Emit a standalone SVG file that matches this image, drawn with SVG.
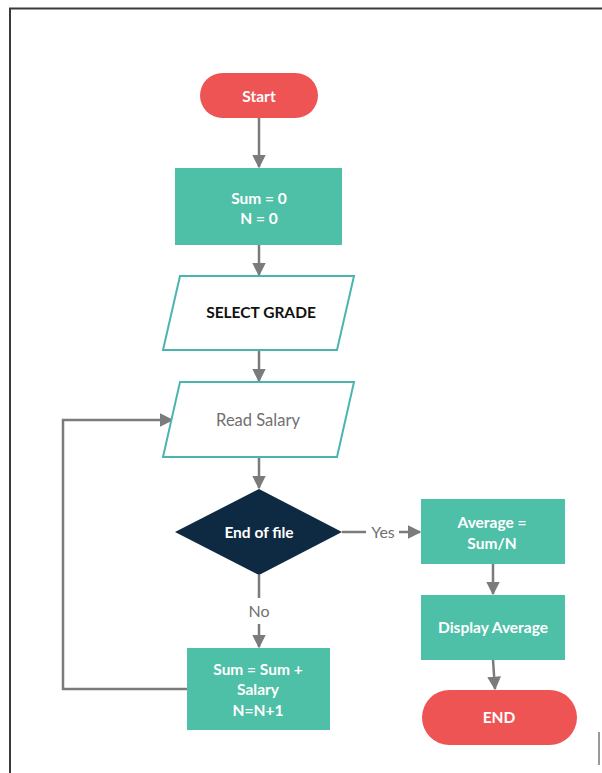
<svg xmlns="http://www.w3.org/2000/svg" width="602" height="773" viewBox="0 0 602 773">
  <style>
    .frame { stroke: #3a3a3a; stroke-width: 2; fill: none; }
    .term { fill: #ef5454; }
    .proc { fill: #4ec0a8; }
    .io { fill: #ffffff; stroke: #4ab5ae; stroke-width: 2; }
    .dec { fill: #0e2a42; }
    .edge { stroke: #7b7b7b; stroke-width: 2.5; fill: none; }
    .lbl { font-family: Lato, "Open Sans", "Liberation Sans", sans-serif; font-size: 15.5px; text-anchor: middle; }
    .w { fill: #ffffff; font-weight: bold; }
    .dark { fill: #111111; font-weight: bold; }
    .grey { fill: #707070; font-size: 16.5px; }
    .elbl { fill: #707070; font-size: 16px; }
  </style>
  <defs>
    <marker id="arrow" viewBox="0 0 10 10" refX="9" refY="5" markerWidth="5.5" markerHeight="5.5" orient="auto" markerUnits="strokeWidth">
      <path d="M0,0 L10,5 L0,10 z" fill="#7b7b7b"/>
    </marker>
  </defs>

  <rect width="602" height="773" fill="#ffffff"/>
  <!-- page frame -->
  <path class="frame" d="M10,773 V8.5 H602"/>
  <line x1="599" y1="732" x2="599" y2="765" stroke="#555" stroke-width="1.2"/>

  <g id="connectors">
    <line class="edge" x1="259" y1="118" x2="259" y2="167" marker-end="url(#arrow)"/>
    <line class="edge" x1="259" y1="245" x2="259" y2="275" marker-end="url(#arrow)"/>
    <line class="edge" x1="259" y1="350" x2="259" y2="381" marker-end="url(#arrow)"/>
    <line class="edge" x1="259" y1="457" x2="259" y2="488" marker-end="url(#arrow)"/>
    <!-- yes branch -->
    <line class="edge" x1="342" y1="532" x2="366" y2="532"/>
    <line class="edge" x1="399" y1="532" x2="420" y2="532" marker-end="url(#arrow)"/>
    <text class="lbl elbl" x="383" y="538">Yes</text>
    <line class="edge" x1="493" y1="564" x2="493" y2="594" marker-end="url(#arrow)"/>
    <line class="edge" x1="493" y1="660" x2="495" y2="689" marker-end="url(#arrow)"/>
    <!-- no branch -->
    <line class="edge" x1="259" y1="575" x2="259" y2="598"/>
    <line class="edge" x1="259" y1="624" x2="259" y2="647" marker-end="url(#arrow)"/>
    <text class="lbl elbl" x="259" y="617">No</text>
    <!-- loop back -->
    <polyline class="edge" points="187,689 63,689 63,420 172,420" marker-end="url(#arrow)"/>
  </g>

  <g id="start">
    <rect class="term" x="200" y="73" width="118" height="45" rx="22.5"/>
    <text class="lbl w" x="259" y="102">Start</text>
  </g>

  <g id="init">
    <rect class="proc" x="175" y="168" width="167" height="77"/>
    <text class="lbl w" x="259" y="204">Sum = 0</text>
    <text class="lbl w" x="259" y="224">N = 0</text>
  </g>

  <g id="select-grade">
    <polygon class="io" points="180,276 354,276 337,350 163,350"/>
    <text class="lbl dark" x="261" y="318">SELECT GRADE</text>
  </g>

  <g id="read-salary">
    <polygon class="io" points="180,382 354,382 337,457 163,457"/>
    <text class="lbl grey" x="258" y="426">Read Salary</text>
  </g>

  <g id="end-of-file">
    <polygon class="dec" points="259,489 342,532 259,575 175,532"/>
    <text class="lbl w" x="259" y="538">End of file</text>
  </g>

  <g id="average">
    <rect class="proc" x="421" y="499" width="144" height="65"/>
    <text class="lbl w" x="492" y="528">Average =</text>
    <text class="lbl w" x="492" y="549">Sum/N</text>
  </g>

  <g id="display-average">
    <rect class="proc" x="421" y="595" width="144" height="65"/>
    <text class="lbl w" x="493" y="633">Display Average</text>
  </g>

  <g id="end">
    <rect class="term" x="422" y="690" width="155" height="55" rx="27.5"/>
    <text class="lbl w" x="499" y="723">END</text>
  </g>

  <g id="accumulate">
    <rect class="proc" x="187" y="648" width="143" height="82"/>
    <text class="lbl w" x="258" y="675">Sum = Sum +</text>
    <text class="lbl w" x="258" y="695">Salary</text>
    <text class="lbl w" x="258" y="716">N=N+1</text>
  </g>
</svg>
